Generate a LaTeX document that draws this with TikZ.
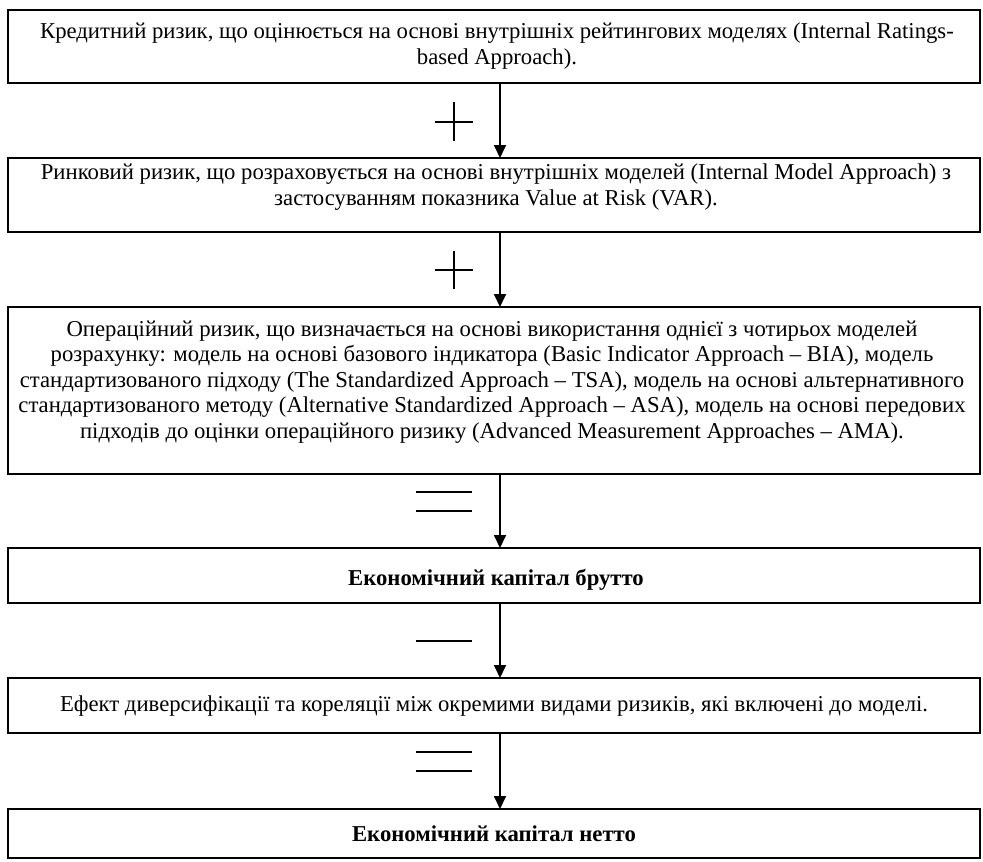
\documentclass[tikz,border=0pt]{standalone}
\usepackage{fontspec}
\setmainfont{Liberation Serif}
\usetikzlibrary{arrows.meta}
\begin{document}
\begin{tikzpicture}[x=1pt,y=-1pt,
  box/.style={draw, line width=1.3pt, minimum width=972pt, inner sep=0pt, outer sep=0pt},
  txt/.style={align=center, inner sep=0pt, font=\fontsize{22.7}{25.6}\selectfont},
  boldtxt/.style={txt, font=\fontsize{22.7}{25.6}\selectfont\bfseries},
  conn/.style={line width=1.8pt, -{Triangle[width=12pt,length=13pt]}},
  op/.style={line width=1.2pt}]
\useasboundingbox (0,0) rectangle (983,862);
\coordinate (ax) at (500,0);
% boxes
\node[box, minimum height=73pt] (b1) at (494,46.5) {};
\node[box, minimum height=74pt] (b2) at (494,195) {};
\node[box, minimum height=167pt] (b3) at (494,390.5) {};
\node[box, minimum height=55pt] (b4) at (494,575.5) {};
\node[box, minimum height=55pt] (b5) at (494,705.5) {};
\node[box, minimum height=49pt] (b6) at (494,833.5) {};
% texts
\node[txt] (t1) at (497,46) {Кредитний ризик, що оцінюється на основі внутрішніх рейтингових моделях (Internal Ratings-\\based Approach).};
\node[txt] (t2) at (496,187) {Ринковий ризик, що розраховується на основі внутрішніх моделей (Internal Model Approach) з\\застосуванням показника Value at Risk (VAR).};
\node[txt] (t3) at (492,382) {Операційний ризик, що визначається на основі використання однієї з чотирьох моделей\\розрахунку: модель на основі базового індикатора (Basic Indicator Approach – BIA), модель\\стандартизованого підходу (The Standardized Approach – TSA), модель на основі альтернативного\\стандартизованого методу (Alternative Standardized Approach – ASA), модель на основі передових\\підходів до оцінки операційного ризику (Advanced Measurement Approaches – AMA).};
\node[boldtxt] (t4) at (496,580) {Економічний капітал брутто};
\node[txt] (t5) at (494,706) {Ефект диверсифікації та кореляції між окремими видами ризиків, які включені до моделі.};
\node[boldtxt] (t6) at (494,834) {Економічний капітал нетто};
% connectors
\draw[conn] (b1.south -| ax) -- (b2.north -| ax);
\draw[conn] (b2.south -| ax) -- (b3.north -| ax);
\draw[conn] (b3.south -| ax) -- (b4.north -| ax);
\draw[conn] (b4.south -| ax) -- (b5.north -| ax);
\draw[conn] (b5.south -| ax) -- (b6.north -| ax);
% operators
\draw[op] (435,122) -- (473,122) (454,102) -- (454,141);
\draw[op] (435,270) -- (473,270) (454,251) -- (454,289);
\draw[op] (416,492) -- (472,492) (416,511) -- (472,511);
\draw[op] (416,641) -- (472,641);
\draw[op] (416,752) -- (472,752) (416,771) -- (472,771);
\end{tikzpicture}
\end{document}
